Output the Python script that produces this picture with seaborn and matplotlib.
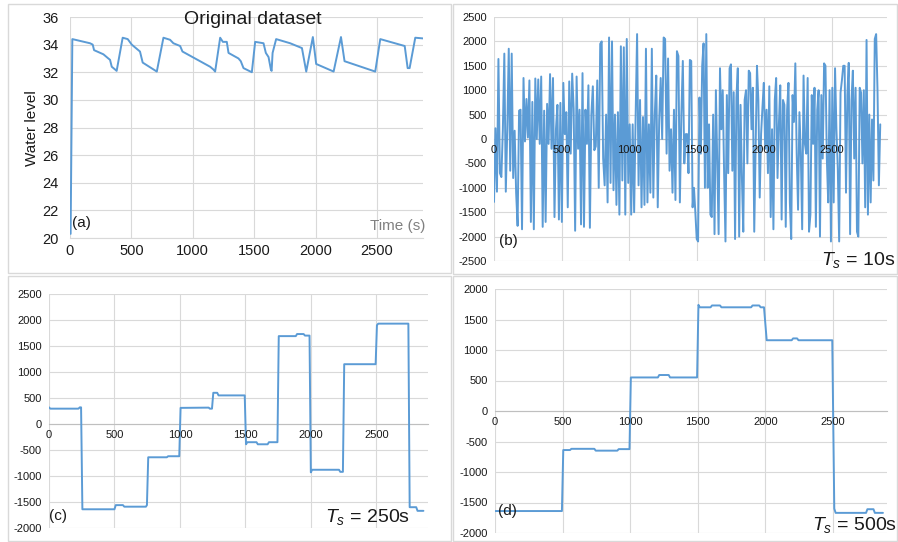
import numpy as np
import pandas as pd
import matplotlib
matplotlib.use("Agg")
import matplotlib.pyplot as plt
from matplotlib.patches import Rectangle
import seaborn as sns

# ---------------- data ----------------
# (a) original dataset: water level
a_time = [5, 19, 163, 185, 196, 272, 312, 326, 340, 367, 380, 429, 470, 503, 570, 592, 707,
          761, 815, 842, 897, 916, 1141, 1168, 1182, 1223, 1245, 1277, 1291, 1372, 1391, 1413,
          1481, 1508, 1576, 1595, 1617, 1636, 1642, 1650, 1679, 1793, 1889, 1924, 1978, 2005,
          2147, 2207, 2236, 2486, 2527, 2726, 2750, 2766, 2812, 2875]
a_level = [20.3, 34.4, 34.1, 34.0, 33.6, 33.3, 33.0, 32.9, 32.4, 32.2, 32.1, 34.5, 34.4, 34.0,
           33.5, 32.7, 32.05, 34.5, 34.35, 34.1, 33.9, 33.5, 32.4, 32.2, 32.05, 34.5, 34.2, 34.2,
           33.4, 33.0, 32.8, 32.3, 32.0, 34.2, 34.1, 33.4, 33.1, 32.2, 32.1, 33.4, 34.4, 34.1,
           33.75, 32.05, 34.55, 32.6, 32.05, 34.55, 32.8, 32.05, 34.4, 33.9, 32.3, 32.3, 34.5, 34.45]

# (b) Ts = 10s
b_part1 = [-1290, 220, -1080, 1640, -700, -780, 190, 1750, -1080, 180, 1850, -650, 1750, -800, 170,
           -1100, -1780, 580, 600, -1850, 1250, -50, 820, 30, 1200, -1700, 760, -1850, 1240, 0,
           1220, -100, 1280, -1800, 580, -1700, 720, -100, 1330, -200, 1250, -1600, 200, 700,
           -1650, 740, -1700, 1150, 100, 550, -1400, 1180, -300, 1340, 620, -1880, 1280, -200,
           600, -1750, 1350, -1800, 600, -100, 1100, -1820, 500, 1080, -230, -150, 1200, -1000,
           1950, 2000, -400, -950, 500, -1300, 2080, -900, 2000, -1050, 500, -1350, 550, -1550,
           1900, -850, 1880, -1550, 2050, -900, 300, -1550, 300, -1500, 450, 2150, -950, 800,
           -1400, 450, -1350, 1850, -1300, 300, -1100, 1850, -1200, 500, 1300, -1400, 400, 1250,
           0, 2080, 2050, -300, 1650, -650, 200, -1100, 600, -1250, 1800, 1700, -1300, 500, 1600,
           -500, 100]
b_part2 = [100, -700, 1620, 1600, -1400, -1000, -1500, -2050, -2100, 850, -300, 1500, 1960, -1000,
           2150, -1000, 300, -1550, -1600, 500, -1950, 1000, -500, -1950, 1450, 200, 1000, -700,
           -2100, 900, -700, 1450, 1530, -650, 960, -2050, 850, 1450, -2000, 700, -800, -1900,
           800, 1000, -500, 1400, 1350, 200, 1050, -1900, -200, 1500, 800, -1200, 100, 650, 1150,
           -200, 600, -700, 1080, -1600, 200, -1850, 800, 1250, -800, 300, 1100, -1650, 800, 700,
           -1800, 600, 1150, -1300, -2050, 900, 350, 1550, -300, -1450, 550, -300, -1850, 1300,
           -100, -300, 1250, -1900, -1550, 900, -100, 1050, -1800, 600, 1000, -2000, 900, -400,
           1550, 1500, -400, -1300, 1000, -2100, 1050, -1300, 1450, 200, -600, -2100, 950, 1200,
           1500, 1500, -1100, 900, 1560, -1950, 800, 1400, -400, 1050, -1900, -2000, 1050, 950,
           -500, 1000, -1400, 2030, -1550, 500, -1300, 400, -850, 2050, 2150, 1000, -950, 300]
b_start1, b_end1 = 0, 1420
b_start2, b_end2 = 1430, 2860

# (c) Ts = 250s
c_time = [0, 10, 225, 235, 245, 255, 500, 510, 565, 575, 740, 748, 758, 900, 910, 995, 1005,
          1220, 1228, 1245, 1255, 1285, 1295, 1495, 1505, 1515, 1585, 1595, 1670, 1680, 1745,
          1755, 1885, 1895, 1945, 1955, 1990, 2000, 2010, 2215, 2225, 2245, 2255, 2495, 2505,
          2515, 2745, 2755, 2805, 2815, 2860]
c_value = [320, 295, 295, 320, 320, -1640, -1640, -1560, -1560, -1590, -1590, -1560, -640, -640,
           -620, -620, 310, 315, 295, 295, 600, 600, 550, 550, -390, -350, -350, -390, -390, -350,
           -350, 1690, 1690, 1730, 1730, 1700, 1700, -930, -880, -880, -920, -920, 1150, 1150,
           1900, 1930, 1930, -1600, -1600, -1670, -1670]

# (d) Ts = 500s
d_time = [0, 495, 505, 555, 565, 735, 745, 905, 915, 995, 1005, 1205, 1215, 1285, 1295, 1495,
          1505, 1515, 1595, 1605, 1665, 1675, 1895, 1905, 1955, 1965, 1990, 2010, 2195, 2205,
          2235, 2245, 2495, 2510, 2520, 2745, 2755, 2800, 2810, 2870]
d_value = [-1640, -1640, -640, -640, -620, -620, -650, -650, -625, -625, 550, 550, 590, 590, 550,
           550, 1740, 1700, 1700, 1730, 1730, 1700, 1700, 1730, 1730, 1700, 1700, 1160, 1160, 1190,
           1190, 1160, 1160, -1600, -1670, -1670, -1610, -1610, -1670, -1670]

x_ticks = [0, 500, 1000, 1500, 2000, 2500]
a_yticks = [20, 22, 24, 26, 28, 30, 32, 34, 36]
b_yticks = [-2500, -2000, -1500, -1000, -500, 0, 500, 1000, 1500, 2000, 2500]
c_yticks = [-2000, -1500, -1000, -500, 0, 500, 1000, 1500, 2000, 2500]
d_yticks = [-2000, -1500, -1000, -500, 0, 500, 1000, 1500, 2000]

# ---------------- style ----------------
sns.set_theme(style="white")
plt.rcParams["font.family"] = ["Liberation Sans", "DejaVu Sans"]
plt.rcParams["mathtext.fontset"] = "custom"
plt.rcParams["mathtext.rm"] = "Liberation Sans"
plt.rcParams["mathtext.it"] = "Liberation Sans:italic"
plt.rcParams["axes.unicode_minus"] = False

BLUE = "#5b9bd5"
GRID = "#d9d9d9"
W, H = 898, 542

fig = plt.figure(figsize=(W / 100, H / 100), dpi=100)
fig.patch.set_facecolor("white")


def ax_px(l, t, r, b):
    return fig.add_axes([l / W, 1 - b / H, (r - l) / W, (b - t) / H])


def fx(x):
    return x / W


def fy(y):
    return 1 - y / H


# panel frames
for (l, t, r, b) in [(8, 4, 451, 273), (453, 4, 897, 274), (8, 276, 451, 541), (453, 276, 897, 541)]:
    fig.add_artist(Rectangle((fx(l), fy(b)), (r - l) / W, (b - t) / H, transform=fig.transFigure,
                             fill=False, edgecolor=GRID, lw=1.0))


def style_axis(ax, xlim, ylim, yticks, fs, zero_axis):
    ax.set_xlim(*xlim)
    ax.set_ylim(*ylim)
    ax.set_xticks(x_ticks)
    ax.set_yticks(yticks)
    ax.grid(False)
    # gridlines drawn beneath the data, tick labels drawn above it
    for xv in x_ticks:
        ax.axvline(xv, color=GRID, lw=0.8, zorder=0.5)
    for yv in yticks:
        ax.axhline(yv, color=GRID, lw=0.8, zorder=0.5)
    ax.set_axisbelow(False)
    ax.xaxis.set_zorder(3)
    ax.yaxis.set_zorder(3)
    for s in ["top", "right", "left"]:
        ax.spines[s].set_visible(False)
    ax.spines["bottom"].set_color("#bfbfbf" if zero_axis else GRID)
    ax.spines["bottom"].set_linewidth(0.8)
    ax.spines["bottom"].set_zorder(0.6)
    if zero_axis:
        ax.spines["bottom"].set_position(("data", 0))
    ax.tick_params(axis="both", length=0, labelsize=fs, colors="#1a1a1a")
    ax.set_xlabel("")
    ax.set_ylabel("")
    ax.set_facecolor("none")


# (a)
ax_a = ax_px(70, 17, 423, 238)
df_a = pd.DataFrame({"t": a_time, "v": a_level})
sns.lineplot(data=df_a, x="t", y="v", ax=ax_a, color=BLUE, lw=1.4, estimator=None)
style_axis(ax_a, (0, 2875), (20, 36), a_yticks, 10.5, False)
ax_a.tick_params(axis="x", pad=4)
ax_a.tick_params(axis="y", pad=8)

# (b)
ax_b = ax_px(494, 17, 887, 261)
b_vals = b_part1 + b_part2
b_t = list(np.linspace(b_start1, b_end1, len(b_part1))) + list(np.linspace(b_start2, b_end2, len(b_part2)))
df_b = pd.DataFrame({"t": b_t, "v": b_vals})
sns.lineplot(data=df_b, x="t", y="v", ax=ax_b, color=BLUE, lw=1.4, estimator=None)
style_axis(ax_b, (0, 2910), (-2500, 2500), b_yticks, 8, True)
ax_b.tick_params(axis="x", pad=4)
ax_b.tick_params(axis="y", pad=5)

# (c)
ax_c = ax_px(49, 294, 428, 528)
df_c = pd.DataFrame({"t": c_time, "v": c_value})
sns.lineplot(data=df_c, x="t", y="v", ax=ax_c, color=BLUE, lw=1.4, estimator=None)
style_axis(ax_c, (0, 2895), (-2000, 2500), c_yticks, 8, True)
ax_c.tick_params(axis="x", pad=4)
ax_c.tick_params(axis="y", pad=5)

# (d)
ax_d = ax_px(495, 289, 887, 533)
df_d = pd.DataFrame({"t": d_time, "v": d_value})
sns.lineplot(data=df_d, x="t", y="v", ax=ax_d, color=BLUE, lw=1.4, estimator=None)
style_axis(ax_d, (0, 2900), (-2000, 2000), d_yticks, 8, True)
ax_d.tick_params(axis="x", pad=4)
ax_d.tick_params(axis="y", pad=5)

# texts
fig.text(fx(253), fy(19), "Original dataset", ha="center", va="center", fontsize=14, color="#1a1a1a")
fig.text(fx(32), fy(128), "Water level", ha="center", va="center", rotation=90, fontsize=11, color="#1a1a1a")
fig.text(fx(425), fy(226), "Time (s)", ha="right", va="center", fontsize=11, color="#808080")
fig.text(fx(72), fy(223), "(a)", ha="left", va="center", fontsize=11, color="#1a1a1a")
fig.text(fx(499), fy(241), "(b)", ha="left", va="center", fontsize=11, color="#1a1a1a")
fig.text(fx(49), fy(516), "(c)", ha="left", va="center", fontsize=11, color="#1a1a1a")
fig.text(fx(498), fy(511), "(d)", ha="left", va="center", fontsize=11, color="#1a1a1a")
fig.text(fx(895), fy(265), r"$T_s$ = 10s", ha="right", va="baseline", fontsize=14, color="#1a1a1a")
fig.text(fx(410), fy(522), r"$T_s$ = 250s", ha="right", va="baseline", fontsize=14, color="#1a1a1a")
fig.text(fx(897), fy(530), r"$T_s$ = 500s", ha="right", va="baseline", fontsize=14, color="#1a1a1a")

fig.savefig("out.png", dpi=100)
